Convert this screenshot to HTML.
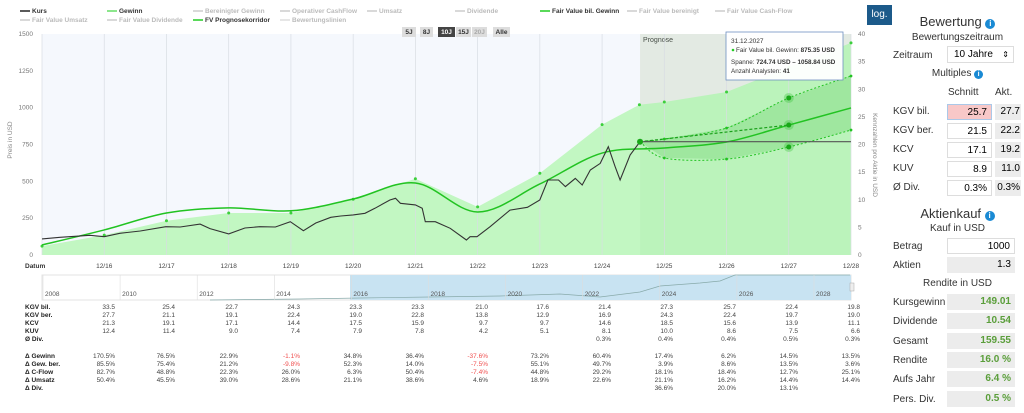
<!DOCTYPE html>
<html><head><meta charset="utf-8"><style>
body{margin:0;width:1024px;height:413px;overflow:hidden;background:#fff;font-family:"Liberation Sans",sans-serif}
.p{position:absolute;font-size:10px;color:#333}
.box{position:absolute;height:16px;font-size:10px;text-align:right;box-sizing:border-box;padding:2px 4px;line-height:12px}
.w{background:#fff;border:1px solid #ddd}
.g{background:#ececec}
.gr{color:#5a9e3a;font-weight:bold}
</style></head><body>
<svg id="c" width="882" height="413" style="position:absolute;left:0;top:0" font-family="Liberation Sans, sans-serif"></svg>

<div class="p" style="left:867px;top:5px;width:25px;height:20px;background:#1c5a8a;color:#fff;text-align:center;line-height:20px">log.</div>
<div class="p" style="left:895px;top:14px;width:125px;text-align:center;font-size:13px">Bewertung <span style="display:inline-block;width:10px;height:10px;border-radius:5px;background:#1a8ad4;color:#fff;font-size:8px;line-height:10px;font-weight:bold">i</span></div>
<div class="p" style="left:895px;top:32px;width:125px;text-align:center;font-size:10px">Bewertungszeitraum</div>
<div class="p" style="left:893px;top:50px">Zeitraum</div>
<div class="box w" style="left:947px;top:46px;width:67px;height:17px;text-align:left;padding-left:6px">10 Jahre <span style="float:right;font-size:8px">⇕</span></div>
<div class="p" style="left:895px;top:68px;width:125px;text-align:center">Multiples <span style="display:inline-block;width:9px;height:9px;border-radius:5px;background:#1a8ad4;color:#fff;font-size:7px;line-height:9px;text-align:center;font-weight:bold">i</span></div>
<div class="p" style="left:948px;top:87px">Schnitt</div>
<div class="p" style="left:995px;top:87px">Akt.</div>
<div id="mult"></div>

<div class="p" style="left:895px;top:206px;width:125px;text-align:center;font-size:13px">Aktienkauf <span style="display:inline-block;width:10px;height:10px;border-radius:5px;background:#1a8ad4;color:#fff;font-size:8px;line-height:10px;font-weight:bold;text-align:center">i</span></div>
<div class="p" style="left:895px;top:223px;width:125px;text-align:center">Kauf in USD</div>
<div class="p" style="left:893px;top:241px">Betrag</div>
<div class="box w" style="left:947px;top:238px;width:68px">1000</div>
<div class="p" style="left:893px;top:260px">Aktien</div>
<div class="box g" style="left:947px;top:257px;width:68px">1.3</div>
<div class="p" style="left:895px;top:278px;width:125px;text-align:center">Rendite in USD</div>
<div id="rend"></div>

<script>
const NS="http://www.w3.org/2000/svg";
const svg=document.getElementById('c');
function el(t,a,parent){const e=document.createElementNS(NS,t);for(const k in a)e.setAttribute(k,a[k]);(parent||svg).appendChild(e);return e;}
function tx(x,y,s,a){const e=el('text',Object.assign({x:x,y:y,'font-size':7,fill:'#666'},a||{}));e.textContent=s;return e;}

// ---- data ----
const yearTicks=['12/16','12/17','12/18','12/19','12/20','12/21','12/22','12/23','12/24','12/25','12/26','12/27','12/28'];
const gewinnYears=[2016,2017,2018,2019,2020,2021,2022,2023,2024,2025,2025.6,2026,2027,2028,2029];
const gewinnValues=[1.6,3.6,6.2,7.6,7.6,10.1,13.8,8.7,14.8,23.6,27.2,27.7,29.5,34.0,38.4];
const fvYears=[2016,2017,2018,2019,2020,2021,2022,2023,2024,2025,2026,2027,2028,2029];
const fairValues=[68,170,285,320,300,380,489,292,482,692,726,767,882,998];
const corridorYears=[2025.61,2026,2027,2028,2029];
const corridorHigh=[769,787,862,1066,1215];
const corridorLow=[769,658,651,733,848];
const kursTimes=[2016.0,2016.29,2016.77,2017.0,2017.25,2017.58,2017.99,2018.22,2018.54,2018.7,2019.0,2019.26,2019.5,2019.75,2019.99,2020.2,2020.4,2020.64,2020.8,2021.0,2021.19,2021.35,2021.59,2021.68,2021.76,2022.0,2022.11,2022.16,2022.32,2022.56,2022.82,2022.88,2022.99,2023.2,2023.52,2023.8,2024.0,2024.13,2024.3,2024.41,2024.57,2024.68,2024.81,2024.97,2025.1,2025.21,2025.29,2025.45,2025.55,2025.61];
const kursValues=[109,120,134,124,147,163,192,190,210,179,143,183,192,190,226,165,217,256,265,272,283,317,373,385,351,340,317,226,226,181,102,124,124,192,305,324,373,509,509,464,520,475,577,622,735,600,509,679,735,769];
const nowPrice=769;
const tableCols=['33.5|27.7|21.3|12.4|','25.4|21.1|19.1|11.4|','22.7|19.1|17.1|9.0|','24.3|22.4|14.4|7.4|','23.3|19.0|17.5|7.9|','23.3|22.8|15.9|7.8|','21.0|13.8|9.7|4.2|','17.6|12.9|9.7|5.1|','21.4|16.9|14.6|8.1|0.3%','27.3|24.3|18.5|10.0|0.4%','25.7|22.4|15.6|8.6|0.4%','22.4|19.7|13.9|7.5|0.5%','19.8|19.0|11.1|6.6|0.3%'];
const deltaCols=['170.5%|85.5%|82.7%|50.4%|','76.5%|75.4%|48.8%|45.5%|','22.9%|21.2%|22.3%|39.0%|','-1.1%|-9.8%|26.0%|28.6%|','34.8%|52.3%|6.3%|21.1%|','36.4%|14.0%|50.4%|38.6%|','-37.6%|-7.5%|-7.4%|4.6%|','73.2%|55.1%|44.8%|18.9%|','60.4%|49.7%|29.2%|22.6%|','17.4%|3.9%|18.1%|21.1%|36.6%','6.2%|8.6%|18.4%|16.2%|20.0%','14.5%|13.5%|12.7%|14.4%|13.1%','13.5%|3.6%|25.1%|14.4%|'];

// ---- scales ----
const X0=42,X1=851,T0=2016,T1=2029,YB=255,YT=34;
const xs=t=>X0+(t-T0)*(X1-X0)/(T1-T0);
const yp=v=>YB-v*(YB-YT)/1500;
const yr=v=>YB-v*(YB-YT)/40;
const progX=xs(corridorYears[0]);

el('rect',{x:X0,y:YT,width:progX-X0,height:YB-YT,fill:'#f5f8fd',});
el('rect',{x:progX,y:YT,width:X1-progX,height:YB-YT,fill:'#ededed',});
tx(progX+3,42,'Prognose',{fill:'#444','font-size':7,});

let d='M'+xs(gewinnYears[0])+','+YB;
gewinnYears.forEach((t,i)=>d+=' L'+xs(t)+','+yr(gewinnValues[i]));
d+=' L'+xs(gewinnYears[gewinnYears.length-1])+','+YB+'Z';
el('path',{d:d,fill:'#c2f7c2',});
el('rect',{x:progX,y:YT,width:X1-progX,height:YB-YT,fill:'rgba(120,200,120,0.08)'});

for(let i=0;i<=13;i++){const x=xs(T0+i);el('line',{x1:x,x2:x,y1:YT,y2:YB,stroke:'#d8dde3','stroke-width':0.7,});}

let cb='M'+xs(corridorYears[0])+','+yp(corridorHigh[0]);
corridorYears.forEach((t,i)=>cb+=' L'+xs(t)+','+yp(corridorHigh[i]));
for(let i=corridorYears.length-1;i>=0;i--)cb+=' L'+xs(corridorYears[i])+','+yp(corridorLow[i]);
el('path',{d:cb+'Z',fill:'rgba(60,190,60,0.22)',});

gewinnYears.forEach((t,i)=>{const c=el('circle',{cx:xs(t),cy:yr(gewinnValues[i]),r:1.5,fill:'#3ccf3c'});

});

function smooth(pts){let s='M'+pts[0][0]+','+pts[0][1];for(let i=0;i<pts.length-1;i++){const p0=pts[i-1]||pts[i],p1=pts[i],p2=pts[i+1],p3=pts[i+2]||p2;s+=' C'+(p1[0]+(p2[0]-p0[0])/6)+','+(p1[1]+(p2[1]-p0[1])/6)+' '+(p2[0]-(p3[0]-p1[0])/6)+','+(p2[1]-(p3[1]-p1[1])/6)+' '+p2[0]+','+p2[1];}return s;}
el('path',{d:smooth(fvYears.map((t,i)=>[xs(t),yp(fairValues[i])])),fill:'none',stroke:'#22c322','stroke-width':1.5,});

el('path',{d:smooth(corridorYears.map((t,i)=>[xs(t),yp(corridorHigh[i])])),fill:'none',stroke:'#22c322','stroke-width':1,'stroke-dasharray':'2,2',});
el('path',{d:smooth(corridorYears.map((t,i)=>[xs(t),yp(corridorLow[i])])),fill:'none',stroke:'#22c322','stroke-width':1,'stroke-dasharray':'2,2',});
el('line',{x1:progX,y1:yp(nowPrice),x2:xs(2028),y2:yp(fairValues[12]),stroke:'#1aa01a','stroke-width':1.2,'stroke-dasharray':'3,2',});
corridorYears.forEach((t,i)=>{if(i>0){el('circle',{cx:xs(t),cy:yp(corridorHigh[i]),r:1.4,fill:'#22c322'});el('circle',{cx:xs(t),cy:yp(corridorLow[i]),r:1.4,fill:'#22c322'});}});
[corridorHigh[3],fairValues[12],corridorLow[3]].forEach(v=>{el('circle',{cx:xs(2028),cy:yp(v),r:5,fill:'rgba(40,190,40,0.3)'});el('circle',{cx:xs(2028),cy:yp(v),r:2.5,fill:'#18a818'});});

el('line',{x1:progX,x2:X1,y1:yp(nowPrice),y2:yp(nowPrice),stroke:'#555','stroke-width':1.2,});
let kd='';
kursTimes.forEach((t,i)=>kd+=(i?' L':'M')+xs(t).toFixed(1)+','+yp(kursValues[i]).toFixed(1));
el('path',{d:kd,fill:'none',stroke:'#333','stroke-width':1.1,});
el('circle',{cx:progX,cy:yp(nowPrice),r:3,fill:'#18a818'});

[0,250,500,750,1000,1250,1500].forEach(v=>tx(33,yp(v)+2,String(v),{'text-anchor':'end','font-size':6.5,fill:'#777'}));
[0,5,10,15,20,25,30,35,40].forEach(v=>tx(858,yr(v)+2,String(v),{'font-size':6.5,fill:'#777'}));
tx(0,0,'Preis in USD',{'font-size':6.5,fill:'#888',transform:'translate(12,140) rotate(-90)','text-anchor':'middle',});
tx(0,0,'Kennzahlen pro Aktie in USD',{'font-size':6.5,fill:'#888',transform:'translate(873,155) rotate(90)','text-anchor':'middle',});
tx(25,268,'Datum',{'font-size':6.5,fill:'#333','font-weight':'bold'});
yearTicks.forEach((s,i)=>tx(xs(T0+i+1),268,s,{'text-anchor':'middle','font-size':6.5,fill:'#444'}));

el('rect',{x:X0,y:275,width:X1-X0,height:25,fill:'#fff',stroke:'#e3e3e3',});
el('rect',{x:350,y:275,width:X1-350,height:25,fill:'#c8e3f2',});
el('path',{d:'M210,300 L300,299 L360,298 L430,297 L500,296 L560,294 L600,297 L640,292 L660,286 L700,283 L720,281 L735,275 L850,275',fill:'none',stroke:'#8aa','stroke-width':0.7});
['2008','2010','2012','2014','2016','2018','2020','2022','2024','2026','2028'].forEach((s,i)=>{const x=43+i*77.1;el('line',{x1:x,x2:x,y1:275,y2:300,stroke:'#ddd','stroke-width':0.6});tx(x+2,296,s,{'font-size':6.5,fill:'#555'});});
el('rect',{x:850,y:283,width:4,height:8,fill:'#eee',stroke:'#aaa','stroke-width':0.5});

const rowL=['KGV bil.','KGV ber.','KCV','KUV','Ø Div.'],dL=['Δ Gewinn','Δ Gew. ber.','Δ C-Flow','Δ Umsatz','Δ Div.'];
rowL.forEach((s,r)=>tx(25,309+r*8,s,{'font-size':6.5,fill:'#222','font-weight':'bold'}));
dL.forEach((s,r)=>tx(25,358+r*8,s,{'font-size':6.5,fill:'#222','font-weight':'bold'}));
const colX=[115,175,238,300,362,424,488,549,611,673,736,798,860];
tableCols.forEach((c,i)=>c.split('|').forEach((v,r)=>{if(v)tx(colX[i],309+r*8,v,{'text-anchor':'end','font-size':6.5,fill:'#444'});}));
deltaCols.forEach((c,i)=>c.split('|').forEach((v,r)=>{if(v)tx(colX[i],358+r*8,v,{'text-anchor':'end','font-size':6.5,fill:v[0]=='-'?'#f05050':'#444'});}));

const leg=[[20,13,'Kurs','#222','#333'],[107,13,'Gewinn','#6d6','#333'],[193,13,'Bereinigter Gewinn','#ccc','#bbb'],[280,13,'Operativer CashFlow','#ccc','#bbb'],[367,13,'Umsatz','#ccc','#bbb'],[455,13,'Dividende','#ccc','#bbb'],[540,13,'Fair Value bil. Gewinn','#2c2','#333'],[627,13,'Fair Value bereinigt','#ccc','#bbb'],[715,13,'Fair Value Cash-Flow','#ccc','#bbb'],[20,22,'Fair Value Umsatz','#ccc','#bbb'],[107,22,'Fair Value Dividende','#ccc','#bbb'],[193,22,'FV Prognosekorridor','#2c2','#333'],[280,22,'Bewertungslinien','#ddd','#bbb']];
leg.forEach(l=>{el('line',{x1:l[0],x2:l[0]+10,y1:l[1]-2,y2:l[1]-2,stroke:l[3],'stroke-width':1.5});const t=tx(l[0]+12,l[1],l[2],{'font-size':6.5,fill:l[4],'font-weight':'bold'});});

[['5J',402,14,'#ddd','#333'],['8J',420,13,'#ddd','#333'],['10J',438,17,'#444','#fff'],['15J',456,15,'#ddd','#333'],['20J',472,15,'#ddd','#aaa'],['Alle',493,17,'#ddd','#333']].forEach(b=>{el('rect',{x:b[1],y:27,width:b[2],height:10,fill:b[3],});tx(b[1]+b[2]/2,34,b[0],{'text-anchor':'middle','font-size':6.5,fill:b[4],'font-weight':'bold'});});

el('rect',{x:726,y:32,width:117,height:48,fill:'rgba(255,255,255,0.95)',stroke:'#6f90c0','stroke-width':0.8,});
tx(731,43,'31.12.2027',{'font-size':6.5,fill:'#333'});
el('circle',{cx:733,cy:50,r:1.3,fill:'#2c2'});
const t1=tx(736,52,'Fair Value bil. Gewinn: ',{'font-size':6.3,fill:'#333'});const b1=el('tspan',{'font-weight':'bold'},t1);b1.textContent='875.35 USD';
const t2=tx(731,64,'Spanne: ',{'font-size':6.3,fill:'#333'});const b2=el('tspan',{'font-weight':'bold'},t2);b2.textContent='724.74 USD – 1058.84 USD';
const t3=tx(731,73,'Anzahl Analysten: ',{'font-size':6.3,fill:'#333'});const b3=el('tspan',{'font-weight':'bold'},t3);b3.textContent='41';

const mult=[['KGV bil.','25.7','27.7'],['KGV ber.','21.5','22.2'],['KCV','17.1','19.2'],['KUV','8.9','11.0'],['Ø Div.','0.3%','0.3%']];
let h='';mult.forEach((m,i)=>{const y=104+i*19;h+=`<div class="p" style="left:893px;top:${y+2}px">${m[0]}</div><div class="box w" style="left:947px;top:${y}px;width:45px;${i==0?'background:#f8c8c8;border-color:#aac8e8':''}">${m[1]}</div><div class="box g" style="left:995px;top:${y}px;width:26px;padding:2px 1px">${m[2]}</div>`;});
document.getElementById('mult').innerHTML=h;
const rend=[['Kursgewinn','149.01'],['Dividende','10.54'],['Gesamt','159.55'],['Rendite','16.0 %'],['Aufs Jahr','6.4 %'],['Pers. Div.','0.5 %']];
h='';rend.forEach((m,i)=>{const y=294+i*19.3;h+=`<div class="p" style="left:893px;top:${y+3}px">${m[0]}</div><div class="box g gr" style="left:947px;top:${y}px;width:68px">${m[1]}</div>`;});
document.getElementById('rend').innerHTML=h;
</script>
</body></html>
